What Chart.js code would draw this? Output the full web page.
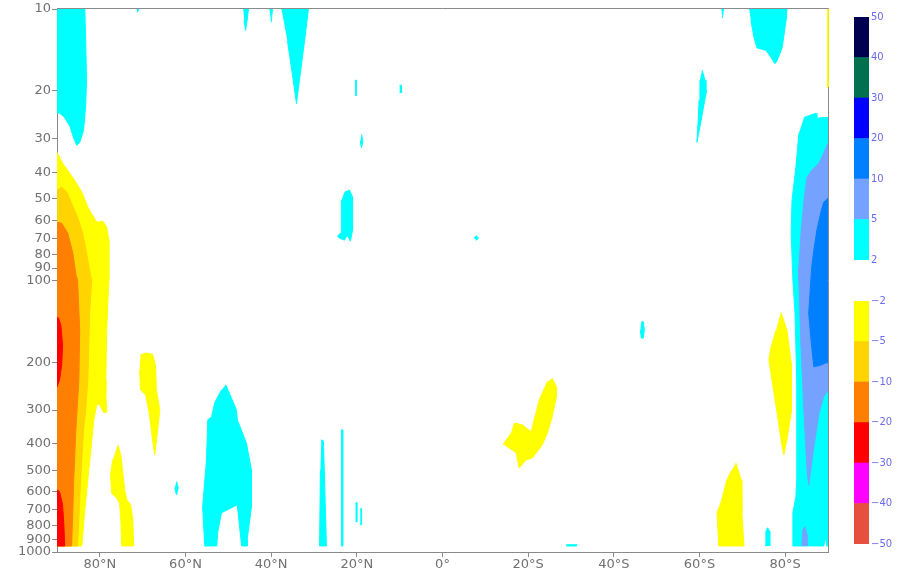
<!DOCTYPE html>
<html>
<head>
<meta charset="utf-8">
<script src="https://cdn.jsdelivr.net/npm/chart.js@4.4.1/dist/chart.umd.min.js"></script>
<style>
  html, body { margin: 0; padding: 0; background: #ffffff; }
  #wrap { position: relative; width: 902px; height: 573px; }
  #wrap canvas { position: absolute; }
</style>
</head>
<body>
<div id="wrap">
  <canvas id="main" width="902" height="573" style="left:0;top:0;width:902px;height:573px"></canvas>
  <canvas id="cbPos" width="56" height="263" style="left:846px;top:7px;width:56px;height:263px"></canvas>
  <canvas id="cbNeg" width="56" height="263" style="left:846px;top:291px;width:56px;height:263px"></canvas>
</div>
<script>
// ---- axes ----
const latTicks = [80, 60, 40, 20, 0, -20, -40, -60, -80];
const latTickLabels = ['80°N', '60°N', '40°N', '20°N', '0°', '20°S', '40°S', '60°S', '80°S'];
const pressureTicks = [10, 20, 30, 40, 50, 60, 70, 80, 90, 100, 200, 300, 400, 500, 600, 700, 800, 900, 1000];

// ---- contour levels (bottom to top of each colour bar) ----
const posLevels = ['2', '5', '10', '20', '30', '40', '50'];
const posColors = ['#00ffff', '#76a2ff', '#0080ff', '#0000ff', '#00704f', '#000050'];
const negLevels = ['\u221250', '\u221240', '\u221230', '\u221220', '\u221210', '\u22125', '\u22122'];
const negColors = ['#e6503c', '#ff00ff', '#ff0000', '#ff8000', '#ffd400', '#ffff00'];

// ---- filled contour regions, as [latitude, pressure hPa] outlines ----
// >= 2
const cyanNorthPole = [[90,10],[83.5,10],[83.3,13.1],[83.1,18.3],[83.3,22.6],[83.8,28.0],[84.7,31.0],[85.4,31.8],[86.1,29.9],[87.0,27.0],[88.4,24.9],[89.4,24.2],[90,24.2]];
const cyanSpeck71N = [[71.4,10],[70.9,10],[71.2,10.3]];
const cyanTop46N = [[46.5,10],[45.3,10],[45.6,11.0],[46.0,12.0],[46.3,11.0]];
const cyanTop40N = [[40.4,10],[39.7,10],[40.0,11.2]];
const cyanTop35N = [[37.6,10],[31.3,10],[32.2,13.1],[33.4,18.3],[34.1,22.3],[35.0,17.6],[36.2,13.1]];
const cyanSpeck20N = [[20.4,18.3],[20.1,18.3],[20.1,20.8],[20.4,20.8]];
const cyanSpeck10N = [[10.0,19.1],[9.6,19.1],[9.6,20.3],[10.0,20.3]];
const cyanSpeck19N = [[18.9,29.0],[18.6,30.7],[18.9,32.5],[19.2,30.7]];
const cyanPatch22N = [[22.9,47.3],[21.7,46.5],[21.0,49.3],[21.0,65.3],[21.5,71.6],[22.2,68.1],[22.9,71.0],[24.1,69.8],[24.5,68.6],[23.6,66.4],[23.6,50.6]];
const cyanLow50N = [[50.6,242],[48.1,300],[47.9,326],[45.8,396],[44.6,498],[44.6,682],[45.6,901],[45.6,950],[46.9,950],[47.9,670],[51.6,717],[52.5,849],[52.7,950],[55.5,950],[56.0,682],[55.1,458],[54.8,326],[53.9,318],[53.2,282],[51.6,253]];
const cyanDot62N = [[62.1,550],[61.7,580],[62.1,616],[62.5,580]];
const cyanStrip27N = [[28.3,386],[27.8,390],[27.6,498],[27.1,950],[28.7,950],[28.5,498]];
const cyanStrip23N = [[23.7,355],[23.3,355],[23.3,950],[23.7,950]];
const cyanStrip20N = [[20.3,659],[20.0,659],[20.0,774],[20.3,774]];
const cyanStrip19N = [[19.2,693],[18.9,693],[18.9,794],[19.2,794]];
const cyanDot8S = [[-7.4,69.8],[-7.9,68.4],[-8.4,69.8],[-7.9,71.2]];
const cyanDot47S = [[-46.4,142],[-46.9,142],[-47.1,152],[-46.9,163],[-46.4,163],[-46.2,152]];
const cyanDash30S = [[-28.9,940],[-31.3,940],[-31.3,950],[-28.9,950]];
const cyanSpeck65S = [[-65.1,10],[-65.6,10],[-65.35,10.8]];
const cyanStrip60S = [[-60.6,16.8],[-61.3,18.3],[-61.5,20.5],[-60.6,24.6],[-59.4,31.0],[-59.7,25.7],[-59.9,21.7],[-60.1,18.3]];
const cyanTop76S = [[-71.6,10],[-80.4,10],[-80.2,11.0],[-79.3,13.9],[-78.1,15.5],[-77.6,15.9],[-76.7,15.1],[-75.5,14.2],[-73.4,13.9],[-72.7,12.7],[-72.0,11.0]];
const cyanStrip76S = [[-75.3,950],[-75.5,840],[-75.9,814],[-76.4,840],[-76.4,950]];
const cyanSouthPole = [[-84.4,25.1],[-87.2,24.2],[-87.4,25.3],[-88.6,25.1],[-90,25.1],[-90,950],[-89.7,950],[-89.5,886],[-89.0,950],[-81.8,950],[-81.8,717],[-82.5,626],[-82.7,542],[-82.7,232],[-82.3,132],[-81.8,99.7],[-81.4,66.9],[-81.6,50.6],[-82.5,38.3],[-83.2,28.7]];
// >= 5
const lightBlueSouthPole = [[-90,31.2],[-89.0,34.0],[-87.9,37.0],[-86.2,39.3],[-85.1,41.7],[-84.4,50.6],[-83.7,66.9],[-83.2,89.3],[-83.2,99.7],[-83.7,176],[-84.4,307],[-85.1,498],[-85.5,566],[-86.7,410],[-87.9,307],[-89.0,268],[-90,253]];
const lightBlueSouthLow = [[-83.9,950],[-84.1,828],[-84.6,807],[-85.1,864],[-85.1,950]];
// >= 10
const blueSouthPole = [[-90,49.8],[-89.0,51.5],[-88.3,56.5],[-87.4,65.3],[-86.7,77.3],[-86.2,89.3],[-86.0,99.7],[-85.5,132],[-86.2,176],[-86.7,208],[-88.3,205],[-89.5,201],[-90,201]];
// <= -2
const yellowNorthPole = [[90,33.7],[88.7,37.0],[87.5,39.3],[85.9,42.7],[84.2,47.3],[82.8,53.7],[80.7,61.0],[79.3,60.5],[78.4,63.6],[77.9,71.0],[77.9,99.7],[78.4,152],[78.6,232],[78.6,264],[78.4,305],[79.1,307],[80.0,287],[80.7,285],[81.4,326],[82.1,420],[82.8,542],[83.5,699],[84.2,950],[90,950]];
const yellow68N = [[70.5,188],[69.3,185],[67.7,187],[67.0,205],[66.8,253],[66.0,300],[66.5,355],[67.2,439],[67.7,386],[68.4,313],[69.3,264],[70.5,253],[70.7,214]];
const yellow75N = [[75.8,403],[75.1,439],[74.7,498],[74.2,590],[73.7,642],[72.8,670],[72.3,761],[72.1,950],[74.9,950],[75.1,761],[75.4,659],[76.3,626],[77.2,610],[77.5,520],[77.0,458]];
const yellow20S = [[-25.6,229],[-26.6,247],[-26.6,268],[-25.6,318],[-24.5,364],[-23.3,403],[-21.0,450],[-19.5,458],[-17.9,490],[-17.2,431],[-14.2,400],[-16.1,364],[-16.8,335],[-18.6,340],[-20.7,361],[-22.6,275],[-24.5,236]];
const yellow67S = [[-68.5,470],[-69.7,542],[-69.9,717],[-70.4,950],[-64.5,950],[-64.1,717],[-65.0,659],[-66.4,542],[-67.6,498]];
const yellow80S = [[-79.0,131],[-80.4,152],[-81.4,201],[-81.4,307],[-80.4,386],[-79.7,439],[-79.3,410],[-78.1,307],[-76.2,196],[-76.7,176],[-77.9,152]];
const yellowEdge90S = [[-89.8,10],[-90,10],[-90,19.4],[-89.8,19.4]];
// <= -5
const goldNorthPole = [[90,46.5],[88.9,45.3],[87.7,47.3],[86.6,51.9],[85.2,58.5],[84.0,66.9],[83.1,79.4],[82.1,97.2],[81.9,99.7],[82.4,132],[82.6,180],[82.8,232],[83.3,300],[83.8,355],[84.5,542],[84.9,761],[85.2,950],[90,950]];
// <= -10
const orangeNorthPole = [[90,61.0],[88.9,61.5],[87.5,66.9],[86.3,79.4],[85.6,95.1],[85.2,99.7],[84.7,152],[84.9,232],[85.6,355],[86.1,542],[86.3,699],[86.6,950],[90,950]];
// <= -20
const redNorthUpper = [[90,136],[89.6,138],[89.1,146],[88.7,173],[88.9,205],[89.4,232],[90,247]];
const redNorthLower = [[90,590],[89.4,600],[88.7,670],[88.4,794],[88.2,950],[90,950]];

// layers drawn from first (bottom) to last (top)
const fillLayers = [
  { color: posColors[0], shapes: [cyanNorthPole, cyanSpeck71N, cyanTop46N, cyanTop40N, cyanTop35N, cyanSpeck20N, cyanSpeck10N,
      cyanSpeck19N, cyanPatch22N, cyanLow50N, cyanDot62N, cyanStrip27N, cyanStrip23N, cyanStrip20N, cyanStrip19N, cyanDot8S,
      cyanDot47S, cyanDash30S, cyanSpeck65S, cyanStrip60S, cyanTop76S, cyanStrip76S, cyanSouthPole] },
  { color: posColors[1], shapes: [lightBlueSouthPole, lightBlueSouthLow] },
  { color: posColors[2], shapes: [blueSouthPole] },
  { color: negColors[5], shapes: [yellowNorthPole, yellow68N, yellow75N, yellow20S, yellow67S, yellow80S] },
  { color: negColors[4], shapes: [goldNorthPole] },
  { color: negColors[3], shapes: [orangeNorthPole] },
  { color: negColors[2], shapes: [redNorthUpper, redNorthLower] }
];

const datasets = [];
fillLayers.forEach((layer, li) => {
  layer.shapes.forEach(shape => {
    datasets.push({
      data: shape.map(([lat, p]) => ({ x: lat, y: p })),
      backgroundColor: layer.color,
      borderColor: layer.color,
      borderWidth: 1,
      fill: 'shape',
      pointRadius: 0,
      pointHoverRadius: 0,
      tension: 0,
      clip: 0,
      order: 100 - li
    });
  });
});
// thin band lying on the right-hand frame
datasets.push({
  data: yellowEdge90S.map(([lat, p]) => ({ x: lat, y: p })),
  backgroundColor: negColors[5], borderColor: negColors[5], borderWidth: 1,
  fill: 'shape', pointRadius: 0, pointHoverRadius: 0, tension: 0,
  clip: { left: 0, top: 0, right: 1, bottom: 0 }, order: 0
});

const axisGray = '#8a8a8a';
const labelGray = '#707070';

// top and right edges of the plot frame
const framePlugin = {
  id: 'frame',
  beforeDatasetsDraw(chart) {
    const { ctx, chartArea: a } = chart;
    ctx.save();
    ctx.strokeStyle = axisGray;
    ctx.lineWidth = 1;
    ctx.beginPath();
    ctx.moveTo(a.left, a.top - 0.5);
    ctx.lineTo(a.right + 0.5, a.top - 0.5);
    ctx.lineTo(a.right + 0.5, a.bottom);
    ctx.stroke();
    ctx.restore();
  }
};

new Chart(document.getElementById('main'), {
  type: 'line',
  data: { datasets },
  options: {
    responsive: false,
    animation: false,
    devicePixelRatio: 1,
    events: [],
    layout: { padding: { left: 0, right: 74, top: 9, bottom: 0 } },
    plugins: { legend: { display: false }, tooltip: { enabled: false } },
    scales: {
      x: {
        type: 'linear', min: -90, max: 90, reverse: true, z: 1,
        afterBuildTicks: s => { s.ticks = latTicks.map(v => ({ value: v })); },
        afterFit: s => { s.height = 21; },
        ticks: {
          autoSkip: false, maxRotation: 0, padding: 0, color: labelGray,
          font: { family: 'DejaVu Sans', size: 13 },
          callback: v => latTickLabels[latTicks.indexOf(v)]
        },
        grid: { drawOnChartArea: false, drawTicks: true, tickLength: 5, color: axisGray },
        border: { display: true, color: axisGray }
      },
      y: {
        type: 'logarithmic', min: 10, max: 1000, reverse: true, z: 1,
        afterBuildTicks: s => { s.ticks = pressureTicks.map(v => ({ value: v })); },
        afterFit: s => { s.width = 57; },
        ticks: {
          autoSkip: false, padding: 1, color: labelGray,
          font: { family: 'DejaVu Sans', size: 13 },
          callback: v => String(v)
        },
        grid: { drawOnChartArea: false, drawTicks: true, tickLength: 5, color: axisGray },
        border: { display: true, color: axisGray }
      }
    }
  },
  plugins: [framePlugin]
});

// ---- colour bars ----
function colorBar(id, colors, labels) {
  new Chart(document.getElementById(id), {
    type: 'bar',
    data: {
      labels: [''],
      datasets: colors.map(c => ({
        data: [1], backgroundColor: c, borderWidth: 0,
        barPercentage: 1, categoryPercentage: 1
      }))
    },
    options: {
      responsive: false,
      animation: false,
      devicePixelRatio: 1,
      events: [],
      layout: { padding: { left: 8, right: 0, top: 10, bottom: 10 } },
      plugins: { legend: { display: false }, tooltip: { enabled: false } },
      scales: {
        x: { display: false, stacked: true },
        y: {
          stacked: true, position: 'right', min: 0, max: colors.length,
          afterBuildTicks: s => { s.ticks = labels.map((_, i) => ({ value: i })); },
          afterFit: s => { s.width = 33; },
          grid: { display: false, drawTicks: false },
          border: { display: false },
          ticks: {
            padding: 2, color: '#6b6bef',
            font: { family: 'DejaVu Sans', size: 10 },
            callback: v => labels[v]
          }
        }
      }
    }
  });
}
colorBar('cbPos', posColors, posLevels);
colorBar('cbNeg', negColors, negLevels);
</script>
</body>
</html>
